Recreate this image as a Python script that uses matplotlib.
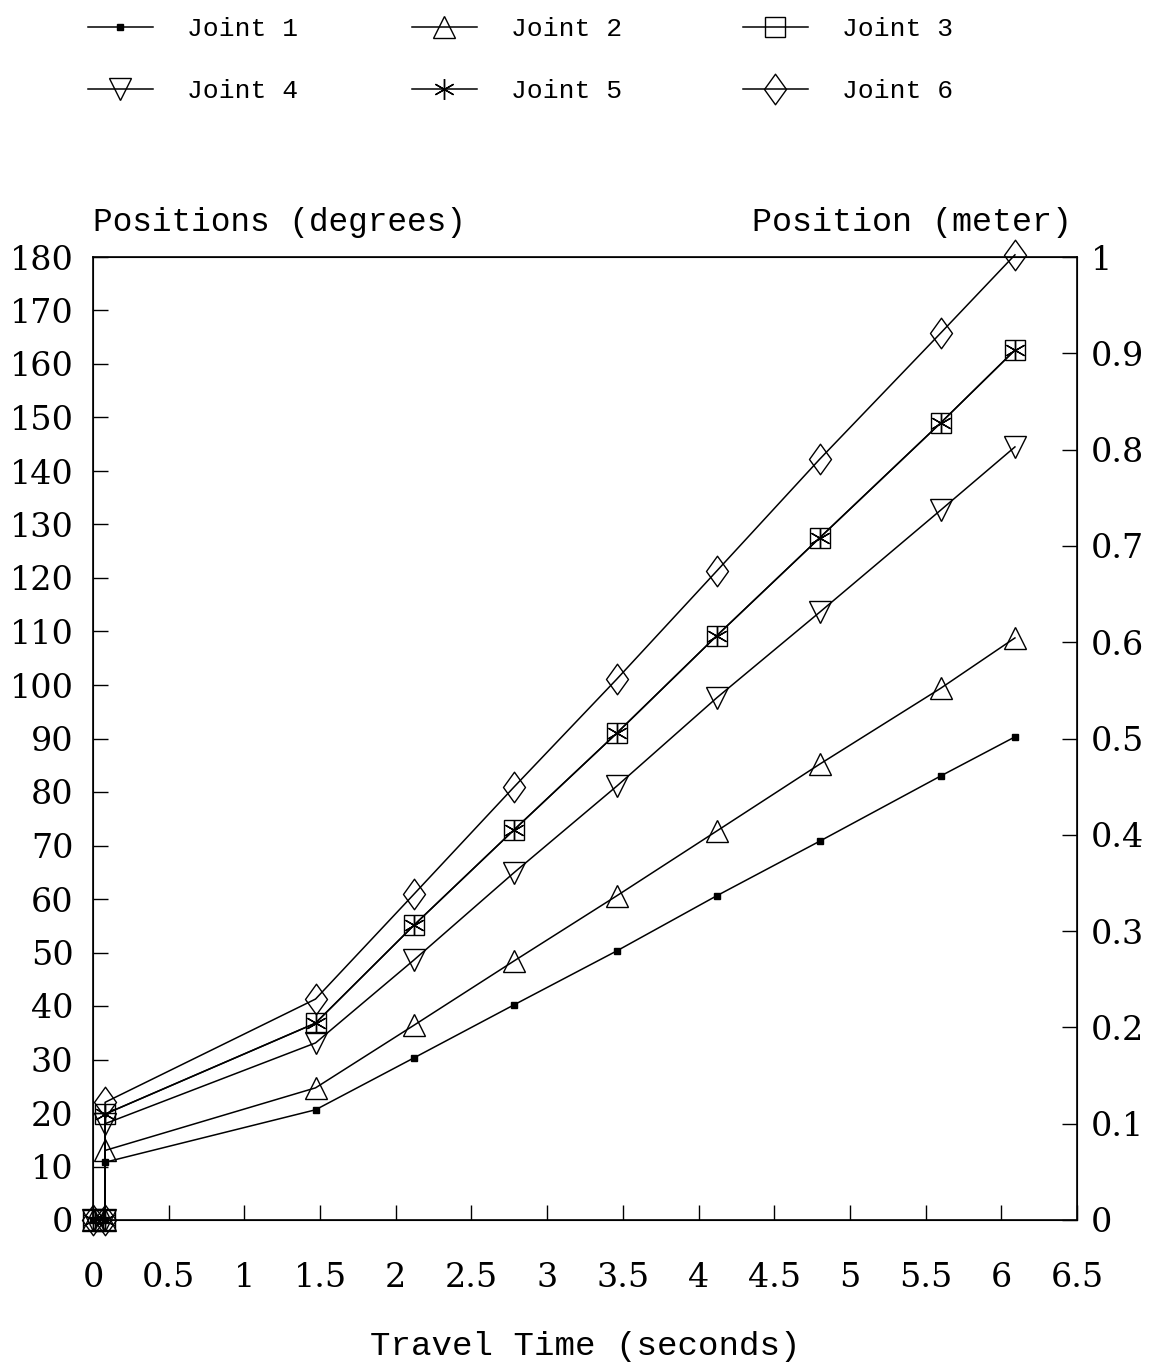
import matplotlib
matplotlib.use("Agg")
import matplotlib.pyplot as plt
from matplotlib.path import Path
import numpy as np

plt.rcParams['font.family'] = ['DejaVu Serif']

# Data
t = [0, 0.08, 0.08, 1.47, 2.12, 2.78, 3.46, 4.12, 4.80, 5.60, 6.09]
joint1 = [0, 0, 10.8, 20.6, 30.3, 40.2, 50.3, 60.6, 70.8, 83.0, 90.3]
joint2 = [0, 0, 13.0, 24.7, 36.4, 48.4, 60.6, 72.7, 85.2, 99.4, 108.8]
joint3 = [0, 0, 19.8, 36.8, 55.1, 72.9, 91.0, 109.2, 127.5, 149.0, 162.6]
joint4 = [0, 0, 18.0, 33.1, 48.6, 64.9, 81.1, 97.6, 113.6, 132.7, 144.5]
joint5 = [0, 0, 19.8, 36.8, 55.1, 72.9, 91.0, 109.2, 127.5, 149.0, 162.6]
joint6 = [0, 0, 22.0, 41.3, 60.9, 80.9, 101.1, 121.3, 142.2, 165.8, 180.4]
labels = ["Joint 1", "Joint 2", "Joint 3", "Joint 4", "Joint 5", "Joint 6"]

xticks = [0, 0.5, 1, 1.5, 2, 2.5, 3, 3.5, 4, 4.5, 5, 5.5, 6, 6.5]
xticklabels = ["0", "0.5", "1", "1.5", "2", "2.5", "3", "3.5", "4", "4.5", "5", "5.5", "6", "6.5"]
yticks = list(range(0, 181, 10))
rticks = [0, 0.1, 0.2, 0.3, 0.4, 0.5, 0.6, 0.7, 0.8, 0.9, 1]
rticklabels = ["0", "0.1", "0.2", "0.3", "0.4", "0.5", "0.6", "0.7", "0.8", "0.9", "1"]

FS = 24
MONO = ['Liberation Mono', 'DejaVu Sans Mono']

fig = plt.figure(figsize=(11.55, 13.68), dpi=100)
ax = fig.add_axes([93/1155, 1-1220/1368, (1077-93)/1155, (1220-257)/1368])

diamond = Path([(0, 1), (0.72, 0), (0, -1), (-0.72, 0), (0, 1)],
               [Path.MOVETO, Path.LINETO, Path.LINETO, Path.LINETO, Path.CLOSEPOLY])

series = [joint1, joint2, joint3, joint4, joint5, joint6]
styles = [
    dict(marker='s', ms=4, mfc='black'),
    dict(marker='^', ms=16, mfc='none'),
    dict(marker='s', ms=14, mfc='none'),
    dict(marker='v', ms=16, mfc='none'),
    dict(marker=(6, 2, 0), ms=15, mfc='none'),
    dict(marker=diamond, ms=22, mfc='none'),
]
handles = []
for y, lab, st in zip(series, labels, styles):
    h, = ax.plot(t, y, color='black', lw=1.1, mec='black', mew=1.0,
                 label=lab, clip_on=False, **st)
    handles.append(h)

ax.set_xlim(0, 6.5)
ax.set_ylim(0, 180)
ax.set_xticks(xticks)
ax.set_xticklabels(xticklabels)
ax.set_yticks(yticks)
ax.set_yticklabels([str(v) for v in yticks])
ax.tick_params(axis='both', direction='in', length=11, width=1.0, labelsize=FS)
ax.tick_params(axis='x', pad=30)
ax.tick_params(axis='y', pad=14)
for s in ax.spines.values():
    s.set_linewidth(1.2)

ax2 = ax.twinx()
ax2.set_ylim(0, 1)
ax2.set_yticks(rticks)
ax2.set_yticklabels(rticklabels)
ax2.tick_params(axis='y', direction='in', length=11, width=1.0, labelsize=FS, pad=10)

ax.text(0, 1.02, "Positions (degrees)", transform=ax.transAxes, ha='left',
        va='bottom', fontsize=23.6, family=MONO)
ax.text(0.995, 1.02, "Position (meter)", transform=ax.transAxes, ha='right',
        va='bottom', fontsize=24, family=MONO)
fig.text(585/1155, 1-1347/1368, "Travel Time (seconds)", ha='center',
         va='center', fontsize=24.6, family=MONO)

# Legend: three columns placed individually
col_x = [88, 412, 743]
for c in range(3):
    hs = [handles[c], handles[c + 3]]
    ls = [labels[c], labels[c + 3]]
    leg = fig.legend(hs, ls, loc='upper left',
                     bbox_to_anchor=(col_x[c]/1155, 1 - 17/1368),
                     frameon=False, prop={'family': MONO, 'size': 19},
                     handlelength=2.45, handletextpad=1.3, labelspacing=1.45,
                     borderaxespad=0, borderpad=0, markerscale=1.0)

fig.savefig("out.png", dpi=100)
